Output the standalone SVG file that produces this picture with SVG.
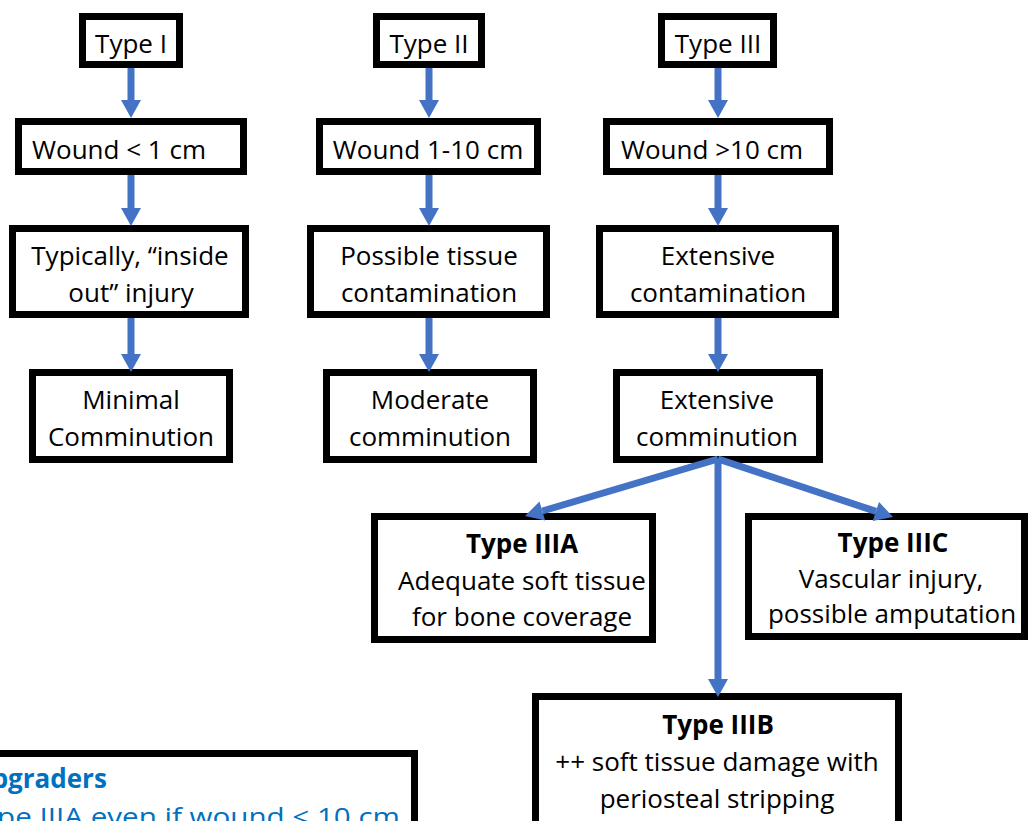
<svg xmlns="http://www.w3.org/2000/svg" width="1029" height="821" viewBox="0 0 1029 821">
  <style>
    .box { fill: #ffffff; stroke: #000000; stroke-width: 7; }
    .t { font-family: "Open Sans", "Noto Sans", sans-serif; font-size: 26px; fill: #000000; text-anchor: middle; }
    .b { font-weight: bold; }
    .note { font-family: "Open Sans", "Noto Sans", sans-serif; font-size: 26px; fill: #0070C0; }
    .arrow { stroke: #4472C4; stroke-width: 7; fill: none; marker-end: url(#head); }
  </style>
  <defs>
    <marker id="head" markerUnits="userSpaceOnUse" markerWidth="20" markerHeight="22" viewBox="0 -11 18 22" refX="0" refY="0" orient="auto">
      <path d="M0,-10 L18,0 L0,10 Z" fill="#4472C4"/>
    </marker>
  </defs>
  <rect width="1029" height="821" fill="#ffffff"/>

  <!-- Type I column -->
  <g id="type1">
    <rect class="box" x="82.5" y="16.5" width="97" height="48"/>
    <text class="t" x="131" y="53">Type I</text>
  </g>
  <g id="wound1">
    <rect class="box" x="18.5" y="121.5" width="225" height="50"/>
    <text class="t" x="32" y="159" style="text-anchor:start">Wound &lt; 1 cm</text>
  </g>
  <g id="insideout">
    <rect class="box" x="12.5" y="228.5" width="233" height="86"/>
    <text class="t" x="130" y="265">Typically, “inside</text>
    <text class="t" x="131" y="302">out” injury</text>
  </g>
  <g id="minimal">
    <rect class="box" x="32.5" y="372.5" width="197" height="87"/>
    <text class="t" x="131" y="409">Minimal</text>
    <text class="t" x="131" y="446">Comminution</text>
  </g>

  <!-- Type II column -->
  <g id="type2">
    <rect class="box" x="376.5" y="16.5" width="105" height="48"/>
    <text class="t" x="429" y="53">Type II</text>
  </g>
  <g id="wound2">
    <rect class="box" x="319.5" y="121.5" width="218" height="50"/>
    <text class="t" x="428" y="159">Wound 1-10 cm</text>
  </g>
  <g id="possible">
    <rect class="box" x="310.5" y="228.5" width="236" height="86"/>
    <text class="t" x="429" y="265">Possible tissue</text>
    <text class="t" x="429" y="302">contamination</text>
  </g>
  <g id="moderate">
    <rect class="box" x="326.5" y="372.5" width="207" height="87"/>
    <text class="t" x="430" y="409">Moderate</text>
    <text class="t" x="430" y="446">comminution</text>
  </g>

  <!-- Type III column -->
  <g id="type3">
    <rect class="box" x="661.5" y="16.5" width="112" height="48"/>
    <text class="t" x="718" y="53">Type III</text>
  </g>
  <g id="wound3">
    <rect class="box" x="606.5" y="121.5" width="223" height="50"/>
    <text class="t" x="712" y="159">Wound &gt;10 cm</text>
  </g>
  <g id="extcontam">
    <rect class="box" x="599.5" y="228.5" width="236" height="86"/>
    <text class="t" x="718" y="265">Extensive</text>
    <text class="t" x="718" y="302">contamination</text>
  </g>
  <g id="extcomm">
    <rect class="box" x="616.5" y="372.5" width="203" height="87"/>
    <text class="t" x="717" y="409">Extensive</text>
    <text class="t" x="717" y="446">comminution</text>
  </g>

  <!-- Type III subtypes -->
  <g id="type3a">
    <rect class="box" x="374.5" y="516.5" width="278" height="123"/>
    <text class="t b" x="522" y="553">Type IIIA</text>
    <text class="t" x="522" y="590">Adequate soft tissue</text>
    <text class="t" x="522" y="626">for bone coverage</text>
  </g>
  <g id="type3c">
    <rect class="box" x="748.5" y="516.5" width="276" height="120"/>
    <text class="t b" x="893" y="552">Type IIIC</text>
    <text class="t" x="891" y="588">Vascular injury,</text>
    <text class="t" x="892" y="623">possible amputation</text>
  </g>
  <g id="type3b">
    <rect class="box" x="535.5" y="696.5" width="363" height="140"/>
    <text class="t b" x="718" y="734">Type IIIB</text>
    <text class="t" x="717" y="771">++ soft tissue damage with</text>
    <text class="t" x="717" y="808">periosteal stripping</text>
  </g>

  <!-- Upgraders note -->
  <g id="upgraders">
    <rect class="box" x="-20" y="753.5" width="434.5" height="100"/>
    <text class="note b" x="-28" y="788">Upgraders</text>
    <text class="note" x="-34" y="826" textLength="434" lengthAdjust="spacingAndGlyphs">Type IIIA even if wound &lt; 10 cm</text>
  </g>

  <!-- Connectors -->
  <g id="connectors">
    <line class="arrow" x1="131" y1="68" x2="131" y2="100"/>
    <line class="arrow" x1="131" y1="175" x2="131" y2="208"/>
    <line class="arrow" x1="131" y1="318" x2="131" y2="354"/>

    <line class="arrow" x1="429" y1="68" x2="429" y2="100"/>
    <line class="arrow" x1="429" y1="175" x2="429" y2="208"/>
    <line class="arrow" x1="429" y1="318" x2="429" y2="354"/>

    <line class="arrow" x1="718" y1="68" x2="718" y2="100"/>
    <line class="arrow" x1="718" y1="175" x2="718" y2="208"/>
    <line class="arrow" x1="718" y1="318" x2="718" y2="354"/>

    <line class="arrow" x1="718" y1="459" x2="542.3" y2="511"/>
    <line class="arrow" x1="718" y1="459" x2="875.9" y2="511.4"/>
    <line class="arrow" x1="718" y1="459" x2="718" y2="679"/>
  </g>
</svg>
